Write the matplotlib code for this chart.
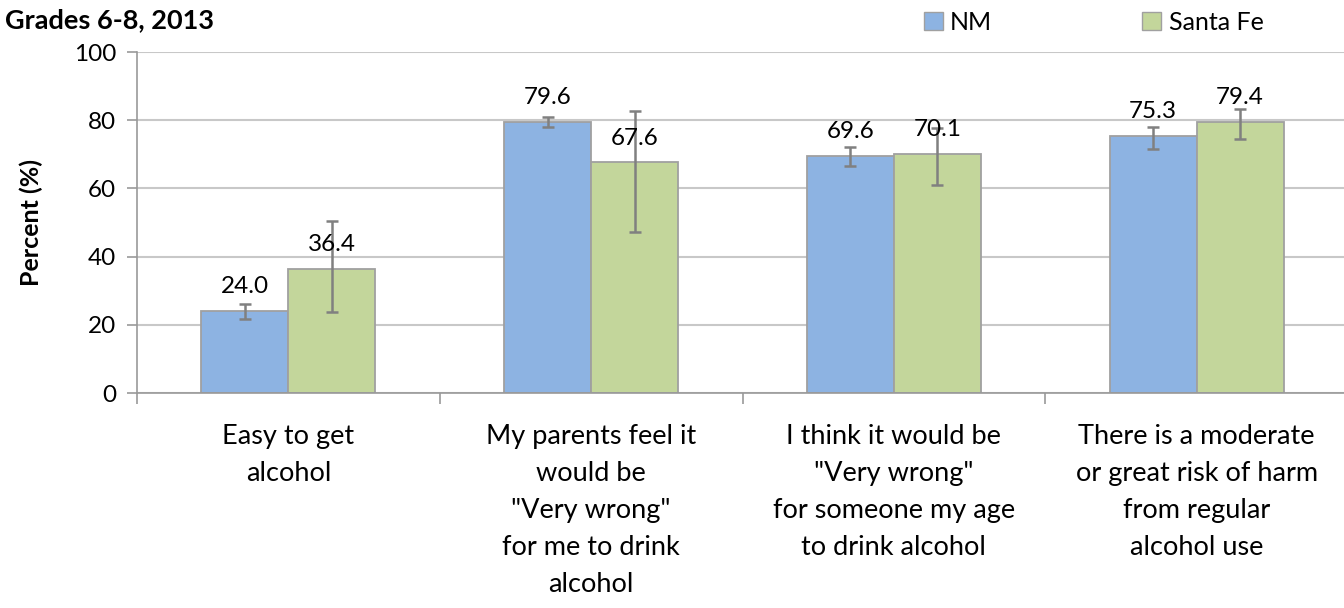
import matplotlib
matplotlib.use("Agg")
import matplotlib.pyplot as plt
import numpy as np
from matplotlib.patches import Patch

categories = [
    "Easy to get\nalcohol",
    "My parents feel it\nwould be\n\"Very wrong\"\nfor me to drink\nalcohol",
    "I think it would be\n\"Very wrong\"\nfor someone my age\nto drink alcohol",
    "There is a moderate\nor great risk of harm\nfrom regular\nalcohol use",
]
series_names = ["NM", "Santa Fe"]
nm_values = [24.0, 79.6, 69.6, 75.3]
sf_values = [36.4, 67.6, 70.1, 79.4]
nm_lower = [21.6, 78.1, 66.6, 71.7]
nm_upper = [26.1, 80.8, 72.2, 78.1]
sf_lower = [23.8, 47.2, 61.1, 74.6]
sf_upper = [50.5, 82.7, 77.8, 83.2]
yticks = [0, 20, 40, 60, 80, 100]
title = "Grades 6-8, 2013"
ylabel = "Percent (%)"

colors = ["#8DB3E2", "#C3D69B"]
edge = "#A0A0A0"
err_color = "#808080"
font = "Lato"
plt.rcParams["font.family"] = [font, "DejaVu Sans"]

fig = plt.figure(figsize=(13.44, 6.08), dpi=100)
ax = fig.add_axes([137 / 1344, 1 - 393 / 608, (1344 - 137) / 1344 + 0.003, (393 - 52) / 608])

x = np.arange(len(categories))
w = 0.287
series = [(nm_values, nm_lower, nm_upper), (sf_values, sf_lower, sf_upper)]
for i, (vals, lo, hi) in enumerate(series):
    pos = x + (i - 0.5) * w
    vals = np.array(vals)
    yerr = np.array([vals - np.array(lo), np.array(hi) - vals])
    ax.bar(pos, vals, width=w, color=colors[i], edgecolor=edge, linewidth=1.3, zorder=2)
    ax.errorbar(pos, vals, yerr=yerr, fmt="none", ecolor=err_color, elinewidth=1.8,
                capsize=4.5, capthick=1.8, zorder=3)
    for p, v in zip(pos, vals):
        ax.annotate(f"{v:.1f}", (p, v), xytext=(0, 10), textcoords="offset points",
                    ha="center", va="bottom", fontsize=17.5, color="black", zorder=4)

ax.set_ylim(0, 100)
ax.set_xlim(-0.5, len(categories) - 0.5)
ax.set_yticks(yticks)
ax.set_yticklabels([str(t) for t in yticks], fontsize=17.5)
ax.yaxis.grid(True, color="#C8C8C8", linewidth=1.5, zorder=0)
ax.set_axisbelow(True)

ax.set_xticks(x)
ax.set_xticklabels(categories, fontsize=19.5, linespacing=1.6, va="top")
ax.tick_params(axis="x", which="major", length=0, pad=22)
ax.set_xticks(np.arange(-0.5, len(categories), 1.0), minor=True)
ax.tick_params(axis="x", which="minor", length=8, color="#999999", width=1.2)
ax.tick_params(axis="y", length=7, color="#999999", width=1.2, pad=8)

for s in ["top", "right"]:
    ax.spines[s].set_visible(False)
ax.spines["left"].set_color("#999999")
ax.spines["bottom"].set_color("#999999")
ax.spines["left"].set_linewidth(1.2)
ax.spines["bottom"].set_linewidth(1.2)

ax.set_ylabel(ylabel, fontsize=18, fontweight="bold", labelpad=22)
fig.text(5 / 1344, 1 - 20 / 608, title, fontsize=19.5, fontweight="bold", ha="left", va="center")

handles = [Patch(facecolor=colors[i], edgecolor=edge, label=series_names[i]) for i in range(2)]
fig.legend(handles=handles, loc="center left", bbox_to_anchor=(914 / 1344, 1 - 22 / 608),
           ncol=2, frameon=False, fontsize=18, handlelength=0.75, handleheight=0.75,
           handletextpad=0.3, columnspacing=6.0, borderaxespad=0)

fig.savefig("out.png", dpi=100)
